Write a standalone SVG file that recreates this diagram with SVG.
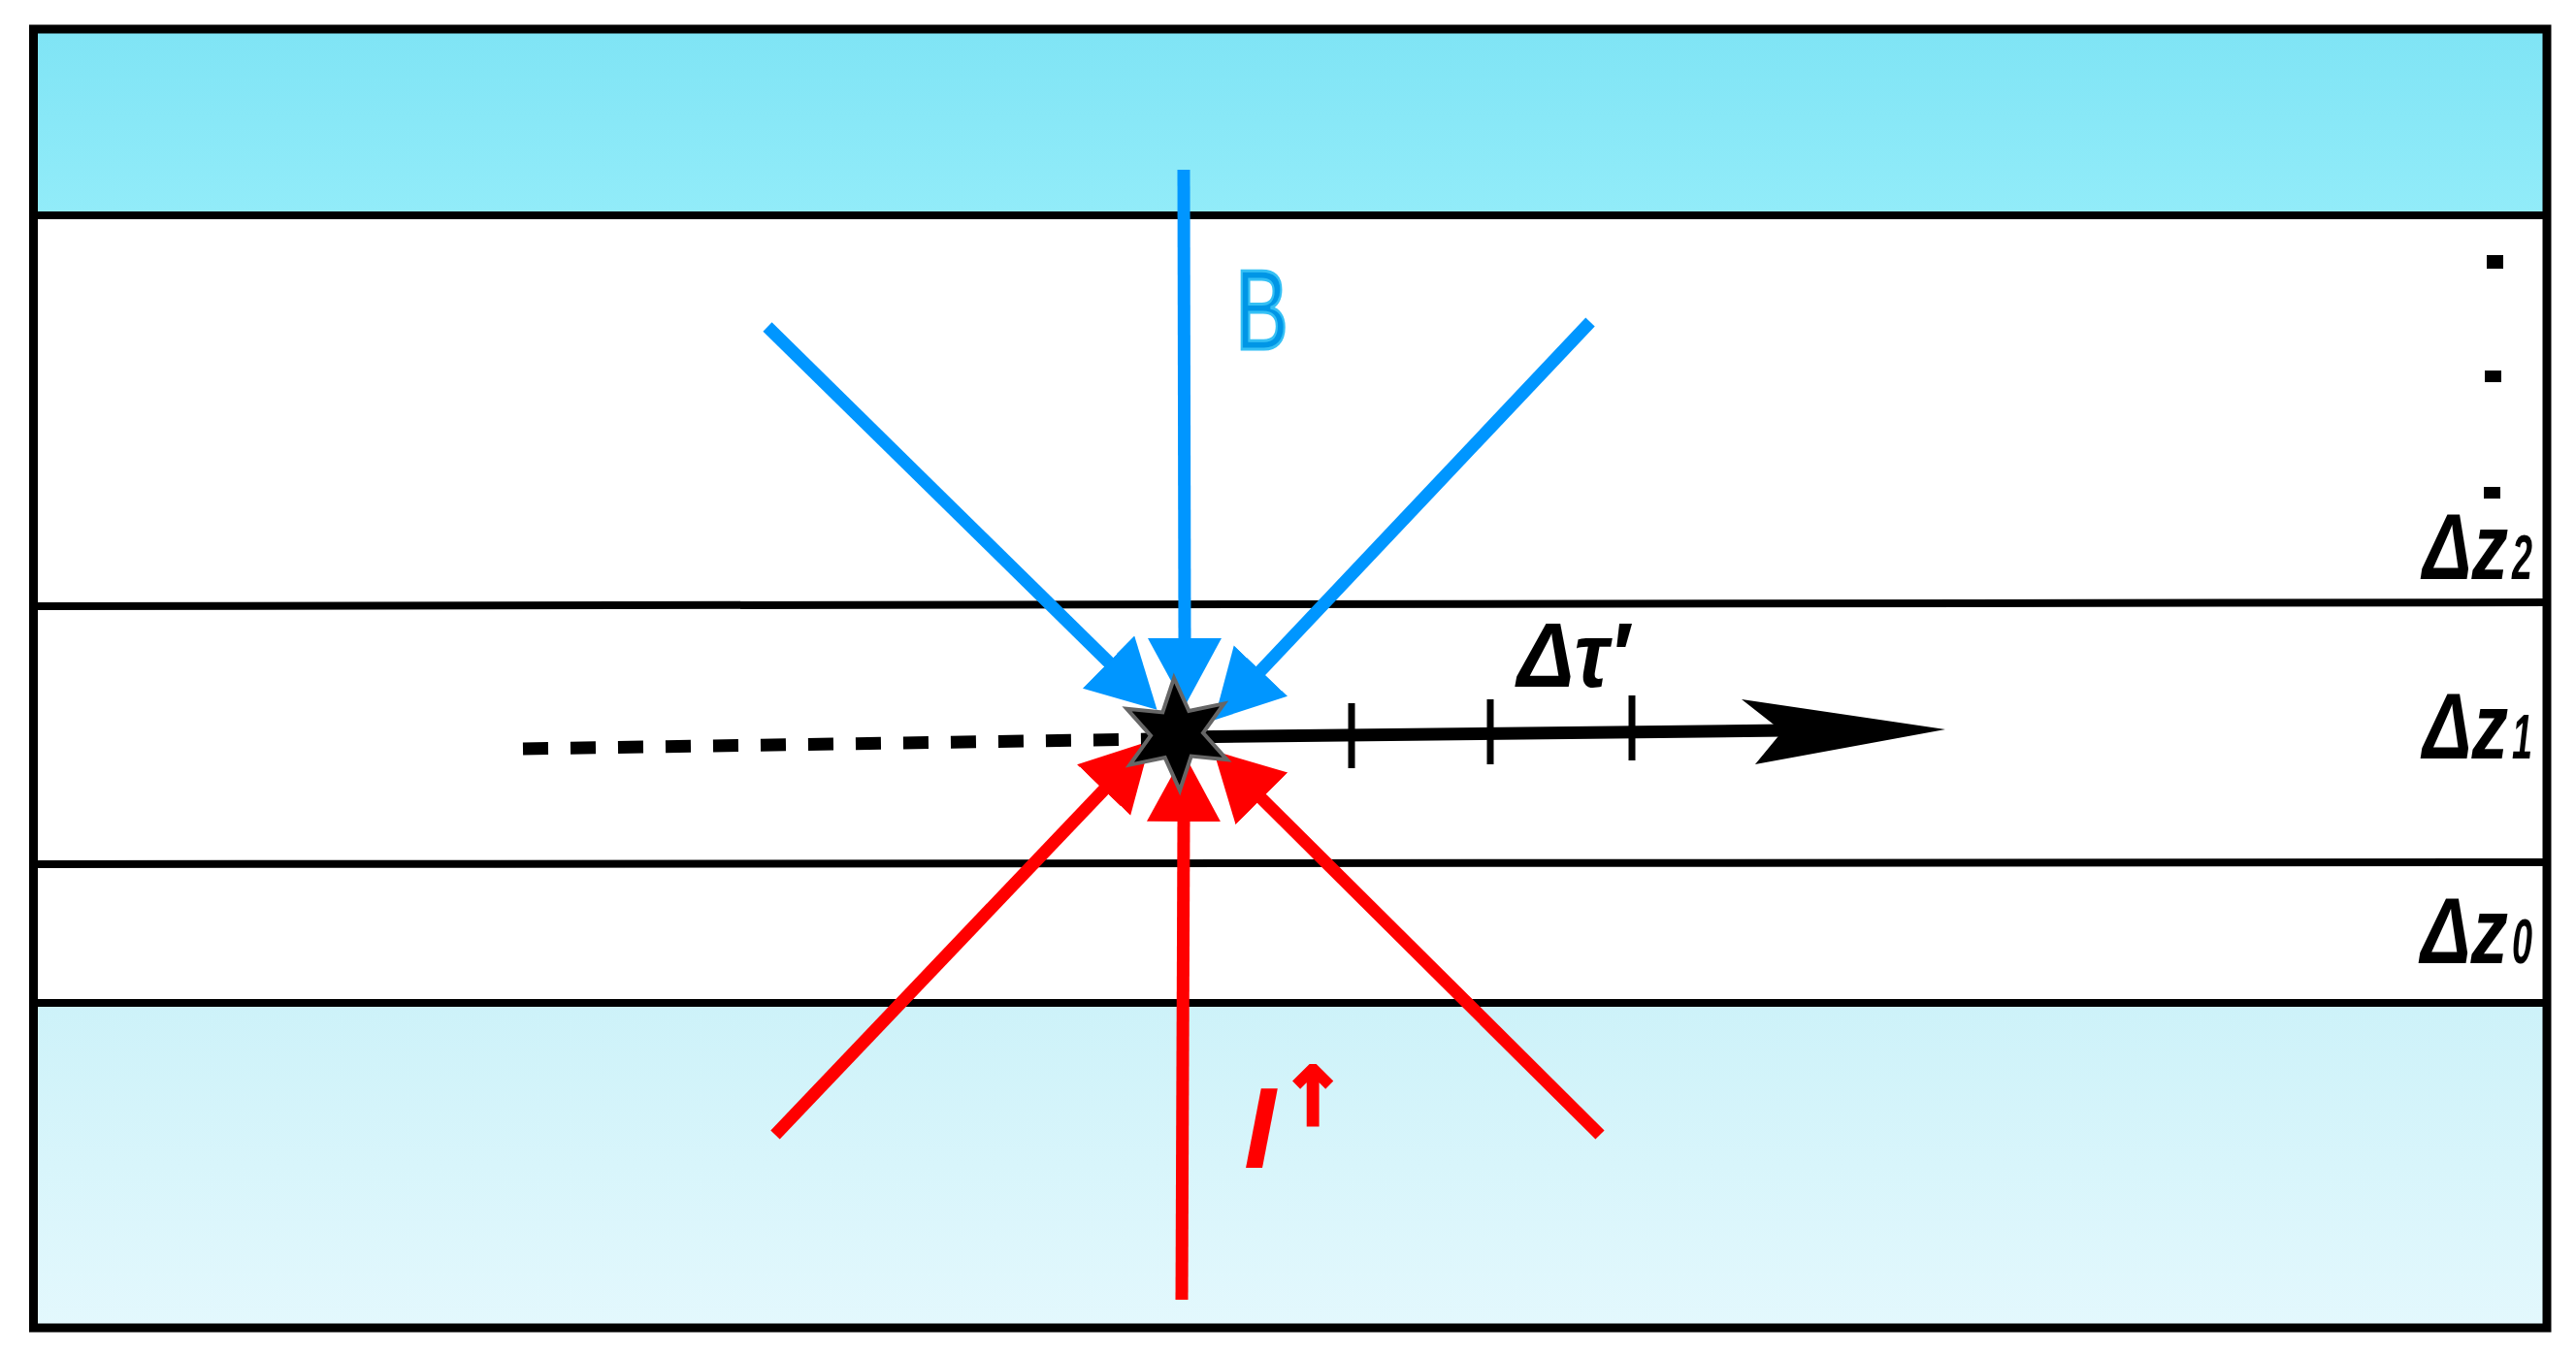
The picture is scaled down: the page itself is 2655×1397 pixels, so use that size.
<svg xmlns="http://www.w3.org/2000/svg" width="2655" height="1397" viewBox="0 0 2655 1397">
<style>
.layer{stroke:#000;stroke-width:8;fill:none}
.blue{stroke:#0096ff;stroke-width:13;fill:none;marker-end:url(#ahB)}
.red{stroke:#ff0000;stroke-width:13;fill:none;marker-end:url(#ahR)}
.tick{stroke:#000;stroke-width:7}
.lbl{font-family:"Liberation Sans","DejaVu Sans",sans-serif;font-weight:bold;font-style:italic;fill:#000}
.sub{font-family:"Liberation Sans","DejaVu Sans",sans-serif;font-weight:bold;font-style:italic;fill:#000;font-size:64px}
</style>
<defs>
<linearGradient id="gTop" x1="0" y1="0" x2="0" y2="1">
<stop offset="0" stop-color="#7fe4f5"/><stop offset="1" stop-color="#92ecf9"/>
</linearGradient>
<linearGradient id="gBot" x1="0" y1="0" x2="0" y2="1">
<stop offset="0" stop-color="#cdf2f9"/><stop offset="1" stop-color="#e3f8fd"/>
</linearGradient>
<marker id="ahB" markerUnits="userSpaceOnUse" markerWidth="80" markerHeight="80" viewBox="0 0 80 80" refX="2" refY="38" orient="auto">
<path d="M0,0 L70,38 L0,76 z" fill="#0096ff"/>
</marker>
<marker id="ahR" markerUnits="userSpaceOnUse" markerWidth="80" markerHeight="80" viewBox="0 0 80 80" refX="2" refY="38" orient="auto">
<path d="M0,0 L70,38 L0,76 z" fill="#ff0000"/>
</marker>
</defs>
<rect x="0" y="0" width="2655" height="1397" fill="#fff"/>
<g id="layers">
<rect id="top-band" x="34" y="30" width="2591" height="192" fill="url(#gTop)"/>
<rect id="bottom-band" x="34" y="1034" width="2591" height="335" fill="url(#gBot)"/>
<line class="layer" x1="34" y1="222" x2="2625" y2="222"/>
<line class="layer" x1="34" y1="625" x2="2625" y2="621"/>
<line class="layer" x1="34" y1="891" x2="2625" y2="889"/>
<line class="layer" x1="34" y1="1034" x2="2625" y2="1034"/>
<rect x="34.5" y="30" width="2590.5" height="1339" fill="none" stroke="#000" stroke-width="9"/>
</g>
<g id="connectors">
<line class="blue" x1="1220" y1="175" x2="1221" y2="660"/>
<line class="blue" x1="791" y1="337" x2="1144" y2="684"/>
<line class="blue" x1="1639" y1="332" x2="1298" y2="693"/>
<line class="red" x1="1218" y1="1340" x2="1220" y2="845"/>
<line class="red" x1="799" y1="1170" x2="1139" y2="813"/>
<line class="red" x1="1649" y1="1170" x2="1299" y2="822"/>
<line x1="539" y1="772" x2="1185" y2="762" stroke="#000" stroke-width="13" stroke-dasharray="26 23"/>
<line x1="1213" y1="760" x2="1840" y2="753" stroke="#000" stroke-width="13"/>
<polygon points="1795,721 2005,752 1809,788 1837,754" fill="#000"/>
<line class="tick" x1="1393" y1="725" x2="1393" y2="792"/>
<line class="tick" x1="1536" y1="721" x2="1536" y2="788"/>
<line class="tick" x1="1682" y1="717" x2="1682" y2="784"/>
</g>
<g id="source">
<polygon points="1210,699 1225.3,732.9 1261.6,725.4 1240,755.6 1264.7,783.3 1227.7,779.6 1216,814.9 1200.7,781.1 1164.4,788.6 1186,758.4 1161.3,730.7 1198.3,734.4" fill="#000" stroke="#666" stroke-width="4" stroke-linejoin="miter"/>
</g>
<g id="labels">
<text x="1273" y="360" font-family="'Liberation Sans','DejaVu Sans',sans-serif" font-size="116" fill="#0096e6" stroke="#35c0f5" stroke-width="3" textLength="55" lengthAdjust="spacingAndGlyphs">B</text>
<text class="lbl" x="1282" y="1204" font-size="118" style="fill:#ff0000">I</text>
<text class="lbl" x="1318" y="1160" font-size="84" style="fill:#ff0000;font-family:'DejaVu Sans',sans-serif" stroke="#ff0000" stroke-width="3">↑</text>
<text class="lbl" x="1564" y="708" font-size="95" textLength="115" lengthAdjust="spacingAndGlyphs">Δτ′</text>
<text class="lbl" x="2497" y="597" font-size="97" textLength="88" lengthAdjust="spacingAndGlyphs">Δz</text>
<text class="sub" x="2589" y="597" textLength="21" lengthAdjust="spacingAndGlyphs">2</text>
<text class="lbl" x="2497" y="782" font-size="97" textLength="88" lengthAdjust="spacingAndGlyphs">Δz</text>
<text class="sub" x="2589" y="782" textLength="21" lengthAdjust="spacingAndGlyphs">1</text>
<text class="lbl" x="2495" y="993" font-size="97" textLength="90" lengthAdjust="spacingAndGlyphs">Δz</text>
<text class="sub" x="2589" y="993" textLength="21" lengthAdjust="spacingAndGlyphs">0</text>
<rect x="2563" y="263" width="17" height="14" fill="#000"/>
<rect x="2561" y="382" width="17" height="12" fill="#000"/>
<rect x="2560" y="502" width="17" height="12" fill="#000"/>
</g>
</svg>
